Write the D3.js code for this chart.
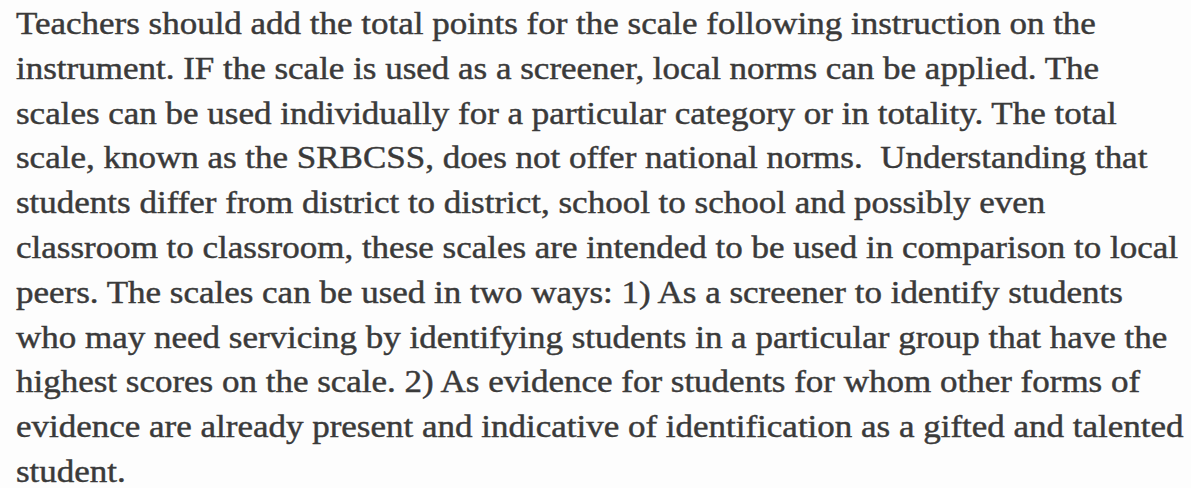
<!DOCTYPE html>
<html>
<head>
<meta charset="utf-8">
<script src="https://cdn.jsdelivr.net/npm/d3@7"></script>
<style>
  html, body { margin: 0; padding: 0; background: #fdfdfd; }
  svg text { font-family: "Liberation Serif", "Times New Roman", serif; white-space: pre; }
</style>
</head>
<body>
<div id="page"></div>
<script>
// text lines of the scanned paragraph
const lines = [
    "Teachers should add the total points for the scale following instruction on the",
    "instrument. IF the scale is used as a screener, local norms can be applied. The",
    "scales can be used individually for a particular category or in totality. The total",
    "scale, known as the SRBCSS, does not offer national norms.  Understanding that",
    "students differ from district to district, school to school and possibly even",
    "classroom to classroom, these scales are intended to be used in comparison to local",
    "peers. The scales can be used in two ways: 1) As a screener to identify students",
    "who may need servicing by identifying students in a particular group that have the",
    "highest scores on the scale. 2) As evidence for students for whom other forms of",
    "evidence are already present and indicative of identification as a gifted and talented",
    "student."
];

const width = 1191;
const height = 488;

const svg = d3.select('#page')
    .append('svg')
    .attr('width', width)
    .attr('height', height);

svg.append('rect')
    .attr('width', width)
    .attr('height', height)
    .attr('fill', '#fdfdfd');

// baseline of each line
const yScale = d3.scaleLinear()
    .domain([0, lines.length - 1])
    .range([34, 482]);

// the scan is a bit wider than the font, stretch horizontally
const g = svg.append('g')
    .attr('transform', 'translate(16,0) scale(1.094,1)');

g.selectAll('.line')
    .data(lines)
    .enter()
    .append('text')
    .attr('class', 'line')
    .attr('x', 0)
    .attr('y', (d, i) => yScale(i))
    .attr('font-size', 32)
    .attr('fill', '#3a3a3a')
    .attr('stroke', '#3a3a3a')
    .attr('stroke-width', 0.45)
    .text(d => d);
</script>
</body>
</html>
